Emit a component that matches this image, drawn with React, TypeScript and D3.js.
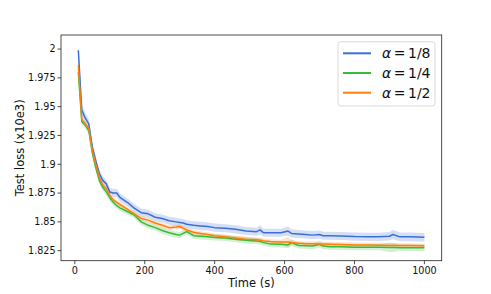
import React from "react";
import * as d3 from "d3";

const WIDTH = 491;
const HEIGHT = 294;

// sampling times (s)
const times = [
    10, 20, 30, 40, 50, 60, 70, 80, 90, 100,
    110, 120, 130, 150, 170, 190, 210, 230, 250, 270,
    290, 300, 310, 320, 340, 360, 380, 400, 430, 460,
    490, 520, 530, 540, 560, 590, 610, 620, 640, 660,
    680, 700, 710, 730, 760, 800, 840, 870, 900, 910,
    930, 960, 1000,
];

const lossEighth = [
    1.999, 1.947, 1.940, 1.935, 1.915, 1.903, 1.892, 1.886, 1.883, 1.876,
    1.875, 1.875, 1.871, 1.867, 1.862, 1.858, 1.857, 1.854, 1.853, 1.851,
    1.850, 1.8495, 1.849, 1.848, 1.847, 1.8465, 1.846, 1.845, 1.8445, 1.8435,
    1.842, 1.8415, 1.843, 1.8405, 1.8405, 1.8405, 1.842, 1.840, 1.8395, 1.839,
    1.8385, 1.839, 1.838, 1.838, 1.8378, 1.8372, 1.837, 1.837, 1.8375, 1.839,
    1.837, 1.837, 1.8366,
];
const stdEighth = [
    0.005, 0.0045, 0.0045, 0.004, 0.004, 0.004, 0.0035, 0.0035, 0.0035, 0.0035,
    0.0035, 0.0035, 0.0035, 0.0035, 0.0035, 0.0035, 0.0035, 0.0035, 0.0035, 0.0035,
    0.0035, 0.0035, 0.0035, 0.0035, 0.0035, 0.0035, 0.0035, 0.0035, 0.0035, 0.0035,
    0.0035, 0.0035, 0.004, 0.0035, 0.0035, 0.0035, 0.004, 0.0035, 0.0035, 0.0035,
    0.0035, 0.0035, 0.0035, 0.0035, 0.0035, 0.0035, 0.0035, 0.0035, 0.0037, 0.004,
    0.0038, 0.0038, 0.0038,
];

const lossQuarter = [
    1.980, 1.937, 1.934, 1.929, 1.910, 1.897, 1.886, 1.880, 1.876, 1.871,
    1.867, 1.864, 1.862, 1.859, 1.856, 1.850, 1.847, 1.845, 1.8425, 1.8405,
    1.839, 1.8385, 1.840, 1.8415, 1.838, 1.8375, 1.837, 1.8365, 1.836, 1.835,
    1.834, 1.8335, 1.833, 1.832, 1.8307, 1.8305, 1.830, 1.832, 1.8295, 1.8293,
    1.829, 1.8305, 1.829, 1.8285, 1.8284, 1.828, 1.828, 1.828, 1.8278, 1.8277,
    1.8276, 1.8275, 1.8275,
];
const stdQuarter = [
    0.0035, 0.003, 0.003, 0.003, 0.003, 0.003, 0.003, 0.003, 0.003, 0.003,
    0.003, 0.0027, 0.0027, 0.0027, 0.0027, 0.0027, 0.0027, 0.0027, 0.0027, 0.0027,
    0.0027, 0.0027, 0.0027, 0.0027, 0.0027, 0.0027, 0.0027, 0.0027, 0.0027, 0.0027,
    0.0027, 0.0027, 0.0027, 0.0027, 0.0027, 0.0027, 0.0027, 0.003, 0.0027, 0.0027,
    0.0027, 0.003, 0.0027, 0.0027, 0.0027, 0.0027, 0.0027, 0.0027, 0.004, 0.004,
    0.0027, 0.0027, 0.0027,
];

const lossHalf = [
    1.986, 1.939, 1.935, 1.931, 1.912, 1.900, 1.889, 1.882, 1.879, 1.873,
    1.869, 1.867, 1.865, 1.861, 1.857, 1.853, 1.8515, 1.849, 1.847, 1.845,
    1.8455, 1.846, 1.8445, 1.843, 1.841, 1.840, 1.839, 1.838, 1.837, 1.836,
    1.835, 1.8345, 1.834, 1.8335, 1.833, 1.8325, 1.8325, 1.832, 1.8315, 1.831,
    1.831, 1.8308, 1.8307, 1.8305, 1.8303, 1.830, 1.830, 1.8298, 1.8296, 1.8296,
    1.8295, 1.8294, 1.8293,
];
const stdHalf = [
    0.0035, 0.0022, 0.0022, 0.0022, 0.0022, 0.0022, 0.002, 0.002, 0.002, 0.002,
    0.002, 0.002, 0.002, 0.002, 0.002, 0.002, 0.002, 0.002, 0.002, 0.002,
    0.002, 0.002, 0.002, 0.002, 0.002, 0.002, 0.002, 0.002, 0.002, 0.002,
    0.002, 0.002, 0.002, 0.002, 0.002, 0.002, 0.0045, 0.002, 0.002, 0.002,
    0.002, 0.002, 0.002, 0.002, 0.002, 0.002, 0.002, 0.002, 0.002, 0.002,
    0.002, 0.002, 0.002,
];

const xTicks = [0, 200, 400, 600, 800, 1000];
const yTicks = [1.825, 1.85, 1.875, 1.9, 1.925, 1.95, 1.975, 2];
const yTickLabels = ["1.825", "1.85", "1.875", "1.9", "1.925", "1.95", "1.975", "2"];

interface ISeries {
    label: string;
    color: string;
    values: number[];
    std: number[];
}

const series: ISeries[] = [
    { label: "1/8", color: "#3b6fd6", values: lossEighth, std: stdEighth },
    { label: "1/4", color: "#38bb38", values: lossQuarter, std: stdQuarter },
    { label: "1/2", color: "#ff7f0e", values: lossHalf, std: stdHalf },
];

const FONT = "'DejaVu Sans', sans-serif";

export default function App() {
    const margin = { top: 35, right: 49.3, bottom: 33.3, left: 61 };
    const plotW = WIDTH - margin.left - margin.right;
    const plotH = HEIGHT - margin.top - margin.bottom;

    const x = d3.scaleLinear([-39.5, 1049.5], [margin.left, margin.left + plotW]);
    const y = d3.scaleLinear([1.8163, 2.0122], [margin.top + plotH, margin.top]);

    const line = d3.line<number>()
        .x((d, i) => x(times[i]))
        .y((d) => y(d));

    const band = (s: ISeries) => d3.area<number>()
        .x((d, i) => x(times[i]))
        .y0((d, i) => y(d - s.std[i]))
        .y1((d, i) => y(d + s.std[i]))(s.values)!;

    const legend = { x: 338, y: 41.7, w: 97, h: 64.3 };
    const rowY = [53.3, 73, 92.7];

    return <svg width={WIDTH} height={HEIGHT}
        style={{ position: "absolute", left: 0, top: 0, background: "#fff" }}
        fontFamily={FONT}>
        <defs>
            <clipPath id="plotClip">
                <rect x={margin.left} y={margin.top} width={plotW} height={plotH} />
            </clipPath>
        </defs>

        <g clipPath="url(#plotClip)">
            {series.map((s) => (
                <path key={"band" + s.label} d={band(s)} fill={s.color} fillOpacity={0.22} stroke="none" />
            ))}
            {series.map((s) => (
                <path key={"line" + s.label} d={line(s.values)!} fill="none"
                    stroke={s.color} strokeWidth={1.5} strokeLinejoin="round" />
            ))}
        </g>

        {/* spines */}
        <rect x={margin.left} y={margin.top} width={plotW} height={plotH}
            fill="none" stroke="#222" strokeWidth={0.8} />

        <g name="xTicks">
            {xTicks.map((t) => (
                <g key={t}>
                    <line x1={x(t)} x2={x(t)} y1={margin.top + plotH} y2={margin.top + plotH + 3.5}
                        stroke="#222" strokeWidth={0.8} />
                    <text x={x(t)} y={margin.top + plotH + 13.5} textAnchor="middle"
                        fontSize={9.6} fill="#111">{t}</text>
                </g>
            ))}
        </g>
        <g name="yTicks">
            {yTicks.map((t, i) => (
                <g key={t}>
                    <line x1={margin.left - 3.5} x2={margin.left} y1={y(t)} y2={y(t)}
                        stroke="#222" strokeWidth={0.8} />
                    <text x={margin.left - 5.5} y={y(t)} dy="0.35em" textAnchor="end"
                        fontSize={9.6} fill="#111">{yTickLabels[i]}</text>
                </g>
            ))}
        </g>

        <text x={margin.left + plotW / 2} y={287} textAnchor="middle" fontSize={11.5} fill="#111">Time (s)</text>
        <text transform={`translate(24,${margin.top + plotH / 2}) rotate(-90)`} textAnchor="middle"
            fontSize={11.5} fill="#111">Test loss (x10e3)</text>

        <g name="legend">
            <rect x={legend.x} y={legend.y} width={legend.w} height={legend.h} rx={3}
                fill="#fff" fillOpacity={0.8} stroke="#d0d0d0" strokeWidth={0.8} />
            {series.map((s, i) => (
                <g key={s.label}>
                    <line x1={343} x2={371} y1={rowY[i]} y2={rowY[i]} stroke={s.color} strokeWidth={2} />
                    <text x={382} y={rowY[i]} dy="0.35em" fontSize={14} fill="#111">
                        <tspan fontStyle="italic">α</tspan>
                        <tspan dx={2.5}>=</tspan>
                        <tspan dx={2.5}>{s.label}</tspan>
                    </text>
                </g>
            ))}
        </g>
    </svg>;
}
